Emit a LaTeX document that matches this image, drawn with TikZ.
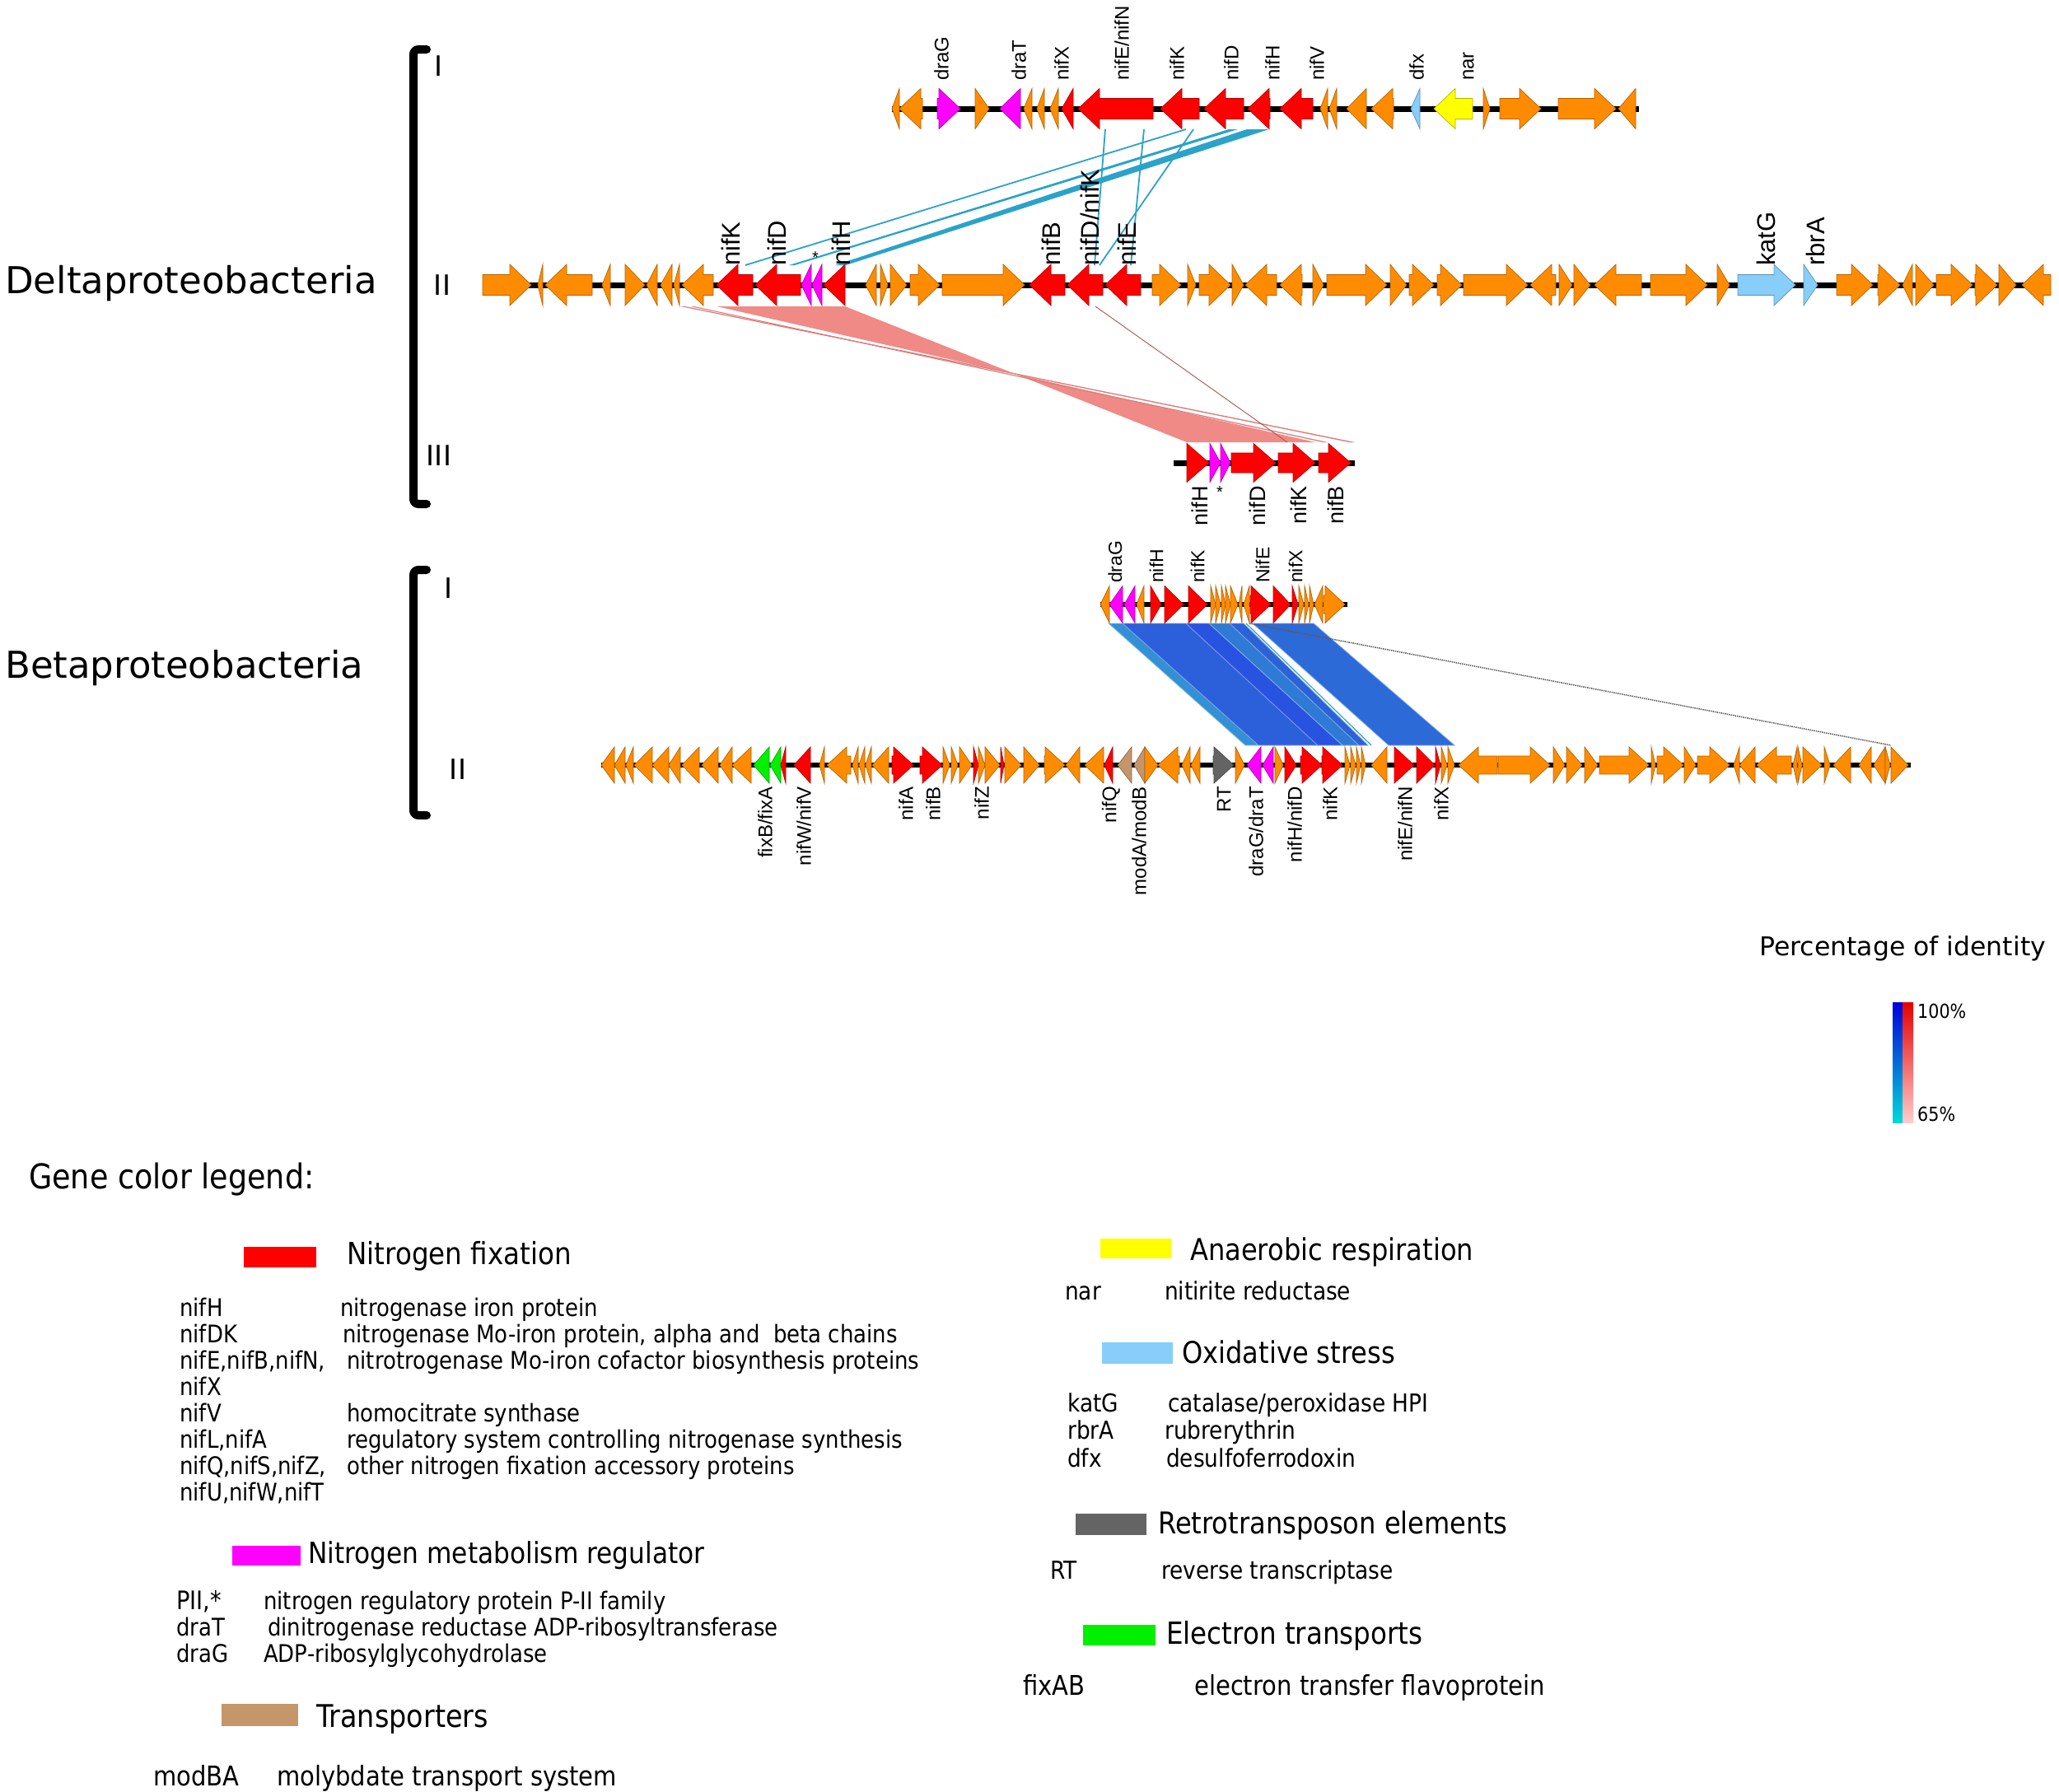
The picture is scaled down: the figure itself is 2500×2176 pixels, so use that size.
\documentclass[tikz,border=0pt]{standalone}
\usepackage{fontspec}
\setmainfont{DejaVu Sans}
\newfontfamily\arialf{Liberation Sans}
\newfontfamily\dejaf{DejaVu Sans}
\newfontfamily\legf[FakeStretch=0.88]{DejaVu Sans}
\definecolor{gOr}{HTML}{FF8C00}
\definecolor{gRd}{HTML}{FF0000}
\definecolor{gMg}{HTML}{FF00FF}
\definecolor{gLb}{HTML}{87CEFA}
\definecolor{gYl}{HTML}{FFFF00}
\definecolor{gTn}{HTML}{C4966A}
\definecolor{gGy}{HTML}{646464}
\definecolor{gGn}{HTML}{00F000}
\definecolor{cyb}{HTML}{2BA3C8}
\definecolor{pk}{HTML}{F08A86}
\definecolor{bA}{HTML}{3390D3}
\definecolor{bB}{HTML}{2C5FDA}
\definecolor{bC}{HTML}{2852E0}
\definecolor{bD}{HTML}{2F7AD4}
\definecolor{bE}{HTML}{2B62D8}
\definecolor{bF}{HTML}{2C6AD8}
\tikzset{
  gene/.style={fill=#1, draw=#1!70!black, line width=0.7},
  track/.style={line width=#1, black},
  lab/.style={font=\arialf\fontsize{#1}{#1}\selectfont, inner sep=0, rotate=90},
  ttl/.style={font=\dejaf\fontsize{#1}{#1}\selectfont, inner sep=0},
  leg/.style={font=\legf\fontsize{#1}{#1}\selectfont, inner sep=0, anchor=base west},
  band/.style={fill=#1, draw=#1!60!white, line width=0.8},
  cyline/.style={cyb, line width=1.8},
  bracket/.style={line width=10, line cap=round, line join=round, rounded corners=6},
}
\newcommand\gHH{24}\newcommand\gSH{12}\newcommand\gHL{26}
\newcommand\gR[4]{\pgfmathsetmacro\gx{max(#2,#3-\gHL)}%
  \filldraw[gene=#4] (#2,#1-\gSH) -- (\gx,#1-\gSH) -- (\gx,#1-\gHH) -- (#3,#1) -- (\gx,#1+\gHH) -- (\gx,#1+\gSH) -- (#2,#1+\gSH) -- cycle;}
\newcommand\gL[4]{\pgfmathsetmacro\gx{min(#3,#2+\gHL)}%
  \filldraw[gene=#4] (#3,#1-\gSH) -- (\gx,#1-\gSH) -- (\gx,#1-\gHH) -- (#2,#1) -- (\gx,#1+\gHH) -- (\gx,#1+\gSH) -- (#3,#1+\gSH) -- cycle;}
\newcommand\gene[5]{\ifnum#4=1 \gR{#1}{#2}{#3}{#5}\else\gL{#1}{#2}{#3}{#5}\fi}
\begin{document}
\begin{tikzpicture}[x=1pt,y=-1pt]
\useasboundingbox (0,0) rectangle (2500,2176);
\fill[white] (0,0) rectangle (2500,2176);

% ---------- titles and brackets
\node[ttl=45, anchor=west] (tDelta) at (6,344) {Deltaproteobacteria};
\node[ttl=45, anchor=west] (tBeta) at (6,811) {Betaproteobacteria};
\draw[bracket] (518,60) -- (502,60) -- (502,612) -- (518,612);
\draw[bracket] (518,692) -- (502,692) -- (502,990) -- (518,990);
\node[ttl=34] (rD1) at (533,80) {I};
\node[ttl=34] (rD2) at (537,346) {II};
\node[ttl=34] (rD3) at (533,553) {III};
\node[ttl=34] (rB1) at (545,714) {I};
\node[ttl=34] (rB2) at (556,934) {II};

% ---------- comparison bands Delta I - Delta II
\fill[cyb] (1514,157) -- (1541,157) -- (1027,322) -- (1014,322) -- cycle;
\fill[cyb] (1492,157) -- (1503,157) -- (965,322) -- (958,322) -- cycle;
\draw[cyline] (1440,157) -- (905,322);
\draw[cyline] (1342,157) -- (1329,322);
\draw[cyline] (1389,157) -- (1373,322);
\draw[cyline] (1449,157) -- (1335,322);
% ---------- Delta II - Delta III
\fill[pk] (870,372) -- (1026,372) -- (1441,537) -- (1597,537) -- cycle;
\fill[pk!90!black] (826,372) -- (832,372) -- (1645,537) -- (1638,537) -- cycle;
\fill[pk!90!black] (838,372) -- (843,372) -- (1612,537) -- (1606,537) -- cycle;
\draw[line width=0.9, red!35!gray] (1330,372) -- (1563,537);
% ---------- Beta I - Beta II
\filldraw[band=bA] (1346,757) -- (1363,757) -- (1528,905) -- (1512,905) -- cycle;
\filldraw[band=bB] (1363,757) -- (1440,757) -- (1600,905) -- (1528,905) -- cycle;
\filldraw[band=bC] (1440,757) -- (1468,757) -- (1630,905) -- (1600,905) -- cycle;
\filldraw[band=bD] (1468,757) -- (1493,757) -- (1650,905) -- (1630,905) -- cycle;
\filldraw[band=bE] (1493,757) -- (1510,757) -- (1661,905) -- (1650,905) -- cycle;
\filldraw[band=bF] (1521,757) -- (1595,757) -- (1766,905) -- (1686,905) -- cycle;
\draw[cyb, line width=1.2] (1513,757) -- (1665,905);
\draw[black!65, line width=1.5, densely dotted] (1517,757) -- (2296,905);

% ---------- Delta I
\draw[track=7] (1083,132) -- (1990,132);
\renewcommand\gHH{24.5}\renewcommand\gSH{12.5}\renewcommand\gHL{26}
\foreach \a/\b/\d/\c in {1083/1092/0/gOr, 1092/1120/0/gOr, 1138/1166/1/gMg, 1184/1201/1/gOr, 1214/1239/0/gMg, 1243/1253/0/gOr, 1259/1268/0/gOr, 1275/1285/0/gOr, 1289/1303/0/gRd, 1309/1400/0/gRd, 1409/1456/0/gRd, 1462/1510/0/gRd, 1515/1542/0/gRd, 1554/1594/0/gRd, 1603/1612/0/gOr, 1614/1623/0/gOr, 1635/1659/0/gOr, 1665/1692/0/gOr, 1713/1724/0/gLb, 1741/1788/0/gYl, 1801/1809/1/gOr, 1821/1871/1/gOr, 1892/1962/1/gOr, 1965/1986/0/gOr}
  {\gene{132}{\a}{\b}{\d}{\c}}
\foreach \x/\t/\n in {1143/draG/a, 1237/draT/b, 1289/nifX/c, 1362/{nifE/nifN}/d, 1429/nifK/e, 1495/nifD/f, 1545/nifH/g, 1599/nifV/h, 1720/dfx/i, 1783/nar/j}
  {\node[lab=24, anchor=west] (dI\n) at (\x,98) {\t};}

% ---------- Delta II
\draw[track=7] (586,346) -- (2490,346);
\renewcommand\gHH{25}\renewcommand\gSH{12.5}\renewcommand\gHL{26}
\foreach \a/\b/\d/\c in {586/645/1/gOr, 653/659/0/gOr, 662/719/0/gOr, 731/741/0/gOr, 759/783/1/gOr, 785/798/0/gOr, 802/816/0/gOr, 818/825/0/gOr, 828/866/0/gOr, 870/914/0/gRd, 917/972/0/gRd, 973/985/0/gMg, 986/998/0/gMg, 1000/1026/0/gRd, 1051/1064/0/gOr, 1069/1078/1/gOr, 1081/1101/1/gOr, 1105/1141/1/gOr, 1144/1244/1/gOr, 1250/1293/0/gRd, 1296/1339/0/gRd, 1342/1385/0/gRd, 1399/1434/1/gOr, 1442/1452/1/gOr, 1456/1494/1/gOr, 1496/1510/1/gOr, 1512/1550/0/gOr, 1554/1581/0/gOr, 1594/1607/1/gOr, 1611/1684/1/gOr, 1688/1708/1/gOr, 1711/1741/1/gOr, 1745/1775/1/gOr, 1777/1855/1/gOr, 1858/1889/0/gOr, 1893/1909/1/gOr, 1911/1931/1/gOr, 1936/1993/0/gOr, 2004/2073/1/gOr, 2085/2100/1/gOr, 2110/2180/1/gLb, 2190/2207/1/gLb, 2230/2274/1/gOr, 2280/2307/1/gOr, 2310/2322/0/gOr, 2326/2348/1/gOr, 2351/2395/1/gOr, 2398/2425/1/gOr, 2427/2448/1/gOr, 2455/2490/0/gOr}
  {\gene{346}{\a}{\b}{\d}{\c}}
\foreach \x/\t/\n in {887/nifK/a, 943/nifD/b, 1021/nifH/c, 1276/nifB/d, 1323/{nifD/nifK}/e, 1368/nifE/f, 2144/katG/g, 2204/rbrA/h}
  {\node[lab=31, anchor=west] (dII\n) at (\x,323) {\t};}
\node[font=\arialf\fontsize{20}{20}\selectfont, inner sep=0] (dIIst) at (990,313) {*};

% ---------- Delta III
\draw[track=7] (1425,562) -- (1645,562);
\renewcommand\gHH{23.5}\renewcommand\gSH{12}\renewcommand\gHL{27}
\foreach \a/\b/\d/\c in {1441/1468/1/gRd, 1469/1482/1/gMg, 1482/1494/1/gMg, 1495/1549/1/gRd, 1552/1597/1/gRd, 1601/1640/1/gRd}
  {\gene{562}{\a}{\b}{\d}{\c}}
\foreach \x/\t/\n in {1457/nifH/a, 1527/nifD/b, 1577/nifK/c, 1622/nifB/d}
  {\node[lab=27, anchor=east] (dIII\n) at (\x,590) {\t};}
\node[font=\arialf\fontsize{20}{20}\selectfont, inner sep=0] (dIIIst) at (1481,598) {*};

% ---------- Beta I
\draw[track=6] (1336,734) -- (1636,734);
\renewcommand\gHH{22.5}\renewcommand\gSH{11}\renewcommand\gHL{24}
\foreach \a/\b/\d/\c in {1336/1347/0/gOr, 1347/1363/0/gMg, 1365/1378/0/gMg, 1380/1389/0/gOr, 1397/1410/1/gRd, 1414/1437/1/gRd, 1443/1466/1/gRd, 1470/1476/1/gOr, 1476/1482/1/gOr, 1483/1488/1/gOr, 1488/1494/1/gOr, 1494/1503/1/gOr, 1504/1508/0/gOr, 1510/1517/0/gOr, 1518/1543/1/gRd, 1546/1567/1/gRd, 1569/1576/1/gRd, 1577/1583/1/gOr, 1584/1589/1/gOr, 1590/1595/1/gOr, 1596/1606/0/gOr, 1607/1633/1/gOr}
  {\gene{734}{\a}{\b}{\d}{\c}}
\foreach \x/\t/\n in {1354/draG/a, 1404/nifH/b, 1454/nifK/c, 1533/NifE/d, 1573/nifX/e}
  {\node[lab=23, anchor=west] (bI\n) at (\x,708) {\t};}

% ---------- Beta II
\draw[track=6] (730,929) -- (2320,929);
\renewcommand\gHH{22}\renewcommand\gSH{11}\renewcommand\gHL{24}
\foreach \a/\b/\d/\c in {730/746/0/gOr, 746/759/0/gOr, 760/769/0/gOr, 770/792/0/gOr, 792/812/0/gOr, 812/826/0/gOr, 828/849/0/gOr, 852/872/0/gOr, 874/889/0/gOr, 889/912/0/gOr, 915/934/0/gGn, 935/948/0/gGn, 948/954/0/gRd, 964/984/0/gRd, 995/1001/0/gOr, 1004/1033/0/gOr, 1035/1042/0/gOr, 1043/1050/0/gOr, 1051/1058/0/gOr, 1059/1079/0/gOr, 1083/1109/1/gRd, 1117/1144/1/gRd, 1145/1153/1/gOr, 1155/1163/1/gOr, 1165/1180/1/gOr, 1182/1188/1/gRd, 1188/1196/1/gOr, 1196/1214/1/gOr, 1215/1219/1/gRd, 1220/1240/1/gOr, 1243/1262/1/gOr, 1268/1293/1/gOr, 1294/1311/0/gOr, 1317/1340/0/gOr, 1341/1351/0/gRd, 1357/1374/0/gTn, 1377/1390/0/gTn, 1390/1406/1/gOr, 1406/1432/0/gOr, 1435/1445/0/gOr, 1446/1457/0/gOr, 1473/1498/1/gGy, 1500/1511/1/gOr, 1514/1531/0/gMg, 1533/1546/0/gMg, 1548/1558/1/gOr, 1560/1574/1/gRd, 1579/1605/1/gRd, 1605/1630/1/gRd, 1633/1639/1/gOr, 1640/1646/1/gOr, 1647/1652/1/gOr, 1653/1658/1/gOr, 1665/1684/0/gOr, 1693/1717/1/gRd, 1720/1742/1/gRd, 1743/1749/1/gRd, 1750/1757/1/gOr, 1758/1766/1/gOr, 1771/1818/0/gOr, 1819/1882/1/gOr, 1886/1900/1/gOr, 1902/1921/1/gOr, 1924/1940/1/gOr, 1942/2002/1/gOr, 2005/2010/1/gOr, 2012/2044/1/gOr, 2045/2059/1/gOr, 2061/2100/1/gOr, 2105/2112/0/gOr, 2112/2131/0/gOr, 2133/2175/0/gOr, 2177/2182/0/gOr, 2183/2188/1/gOr, 2189/2212/1/gOr, 2215/2222/1/gOr, 2226/2247/0/gOr, 2257/2272/0/gOr, 2275/2289/0/gOr, 2289/2295/1/gOr, 2296/2317/1/gOr}
  {\gene{929}{\a}{\b}{\d}{\c}}
\foreach \x/\t/\n in {929/{fixB/fixA}/a, 976/{nifW/nifV}/b, 1100/nifA/c, 1133/nifB/d, 1192/nifZ/e, 1349/nifQ/f, 1383/{modA/modB}/g, 1486/RT/h, 1525/{draG/draT}/i, 1572/{nifH/nifD}/j, 1615/nifK/k, 1706/{nifE/nifN}/l, 1750/nifX/m}
  {\node[lab=24, anchor=east] (bII\n) at (\x,955) {\t};}

% ---------- identity scale
\node[ttl=31.5, anchor=west] (pid) at (2136,1152) {Percentage of identity};
\shade[top color=blue!85!black, bottom color=cyan!70!teal] (2298,1217) rectangle (2310,1363);
\shade[top color=red!90!black, bottom color=red!20] (2310,1217) rectangle (2323,1363);
\node[leg=23.5] (p100) at (2328,1236) {100\%};
\node[leg=23.5] (p65) at (2328,1361) {65\%};

% ---------- legend left
\node[leg=41.5] (lgT) at (35,1443) {Gene color legend:};
\fill[gRd] (296,1514) rectangle (384,1539);
\node[leg=37] (lgNF) at (421,1535) {Nitrogen fixation};
\foreach \y/\k/\v/\vx/\n in {1598/nifH/nitrogenase iron protein/413/a, 1630/nifDK/{nitrogenase Mo-iron protein, alpha and\ \ beta chains}/416/b, 1662/{nifE,nifB,nifN,}/nitrotrogenase Mo-iron cofactor biosynthesis proteins/421/c, 1694/nifX//421/d, 1726/nifV/homocitrate synthase/421/e, 1758/{nifL,nifA}/regulatory system controlling nitrogenase synthesis/421/f, 1790/{nifQ,nifS,nifZ,}/other nitrogen fixation accessory proteins/421/g, 1822/{nifU,nifW,nifT}//421/h}
  {\node[leg=29.5] (lk\n) at (218,\y) {\k}; \node[leg=29.5] (lv\n) at (\vx,\y) {\v};}
\fill[gMg] (282,1877) rectangle (365,1901);
\node[leg=35.5] (lgNM) at (374,1898) {Nitrogen metabolism regulator};
\node[leg=31] (lkPII) at (214,1954) {PII,*};
\node[leg=29.5] (lvPII) at (320,1954) {nitrogen regulatory protein P-II family};
\node[leg=29.5] (lkdrT) at (214,1986) {draT};
\node[leg=29.5] (lvdrT) at (325,1986) {dinitrogenase reductase ADP-ribosyltransferase};
\node[leg=29.5] (lkdrG) at (214,2018) {draG};
\node[leg=29.5] (lvdrG) at (320,2018) {ADP-ribosylglycohydrolase};
\fill[gTn] (269,2069) rectangle (362,2096);
\node[leg=38] (lgTr) at (384,2097) {Transporters};
\node[leg=33] (lkmod) at (186,2168) {modBA};
\node[leg=33] (lvmod) at (336,2168) {molybdate transport system};

% ---------- legend right
\fill[gYl] (1336,1504) rectangle (1422,1528);
\node[leg=36.5] (lgAR) at (1445,1530) {Anaerobic respiration};
\node[leg=30] (lknar) at (1293,1578) {nar};
\node[leg=30] (lvnar) at (1414,1578) {nitirite reductase};
\fill[gLb] (1338,1630) rectangle (1424,1656);
\node[leg=36.5] (lgOS) at (1435,1655) {Oxidative stress};
\node[leg=30] (lkkat) at (1296,1714) {katG};
\node[leg=30] (lvkat) at (1418,1714) {catalase/peroxidase HPI};
\node[leg=30] (lkrbr) at (1296,1747) {rbrA};
\node[leg=30] (lvrbr) at (1414,1747) {rubrerythrin};
\node[leg=30] (lkdfx) at (1296,1781) {dfx};
\node[leg=30] (lvdfx) at (1416,1781) {desulfoferrodoxin};
\fill[gGy] (1306,1838) rectangle (1392,1864);
\node[leg=36.5] (lgRT) at (1406,1862) {Retrotransposon elements};
\node[leg=30] (lkRT) at (1275,1917) {RT};
\node[leg=30] (lvRT) at (1410,1917) {reverse transcriptase};
\fill[gGn] (1315,1973) rectangle (1403,1998);
\node[leg=37] (lgET) at (1416,1996) {Electron transports};
\node[leg=33] (lkfix) at (1242,2058) {fixAB};
\node[leg=33] (lvfix) at (1450,2058) {electron transfer flavoprotein};
\end{tikzpicture}
\end{document}
